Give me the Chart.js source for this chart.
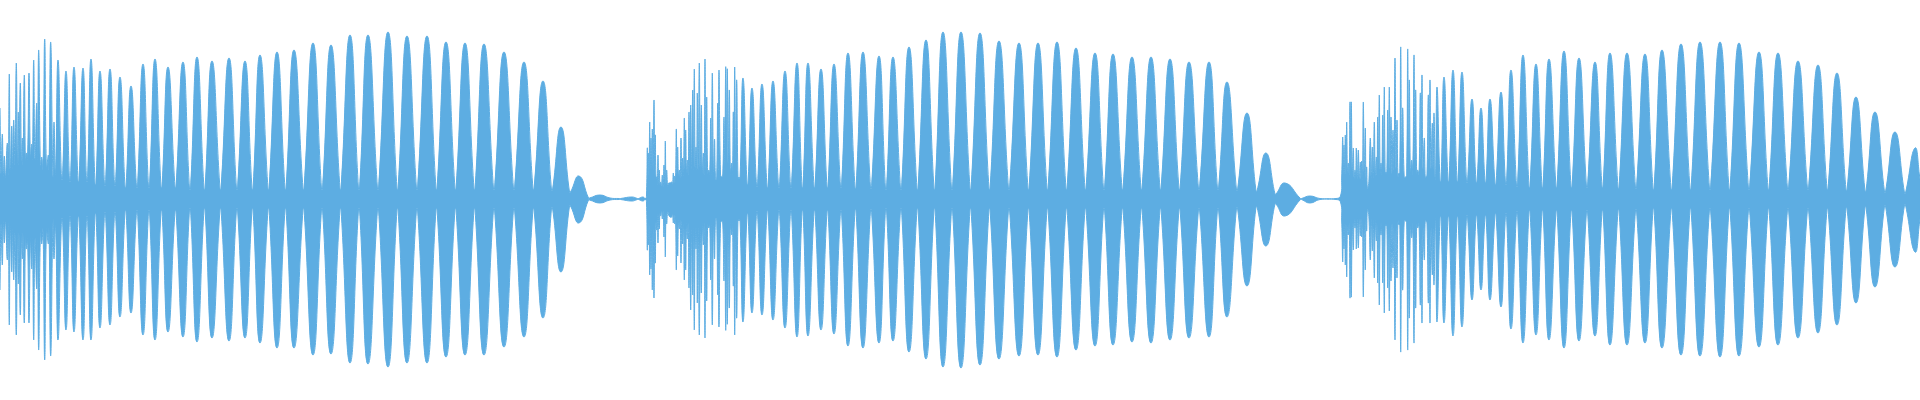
<!DOCTYPE html>
<html lang="en">
<head>
  <meta charset="UTF-8" />
  <title>Waveform</title>
  <script src="https://cdn.jsdelivr.net/npm/chart.js"></script>
  <style>
    html, body { margin: 0; padding: 0; background: #fff; }
    .wave { width: 1920px; height: 400px; }
  </style>
</head>
<body>
  <div class="wave"><canvas id="wave"></canvas></div>
  <script>
    // sample positions along the clip and the peak envelope (top / bottom)
    const sampleX = [
      0, 1, 2.3, 3.3, 4.3, 5.5, 7.3, 8.3, 9.3, 10.3, 11.7, 12.7, 13.7, 15, 16.3, 17.5, 18.3, 19, 20.3, 21.5,
      22.3, 23, 24.3, 25.5, 26.3, 27.5, 29, 30.5, 31.7, 32.5, 33.7, 35, 36.7, 37.5, 38.7, 40.5, 41.7, 43, 44.7, 46.5,
      48.3, 49, 50.7, 53, 54, 55.5, 58, 62, 66, 70, 74, 78.5, 83, 87, 91, 95.5, 100, 105, 110, 115,
      120, 125.5, 131, 137, 143, 149, 155, 161.5, 168, 175.5, 183, 190, 197, 204.5, 212, 220.5, 229, 237, 245, 252.5,
      260, 268.5, 277, 285.5, 294, 303.5, 313, 322, 331, 340.5, 350, 359, 368, 378, 388, 397.5, 407, 417, 427, 436.5,
      446, 455.5, 465, 474.5, 484, 494, 504, 514, 524, 533.5, 543, 552, 561, 570, 579, 589, 600, 610, 620, 632,
      638, 643, 645.5,
      646.5, 647.3, 647.8, 648.3, 649, 649.7, 650.3, 651, 651.7, 652.3, 653.2, 654, 654.7, 655.3, 656, 656.7, 657.3, 658, 658.7, 659.3,
      660, 660.7, 661.5, 662.3, 663.2, 664, 664.7, 665.3, 666, 666.7, 667.7, 668.7, 670, 671.7, 672.5, 673.3, 674, 674.7, 675.5, 676.3,
      677, 677.7, 678.5, 679.3, 680.2, 681, 681.8, 682.7, 683.5, 684.3, 685, 685.7, 686.5, 687.3, 688.2, 689, 689.8, 690.7, 691.7, 692.7,
      693.5, 694.3, 695.2, 696, 696.7, 697.3, 698.3, 699.3, 700.3, 701.3, 702.3, 703.3, 704.2, 705, 705.8, 706.7, 707.7, 708.7, 709.7, 710.7,
      711.5, 712.3, 713.5, 714.5, 715.3, 716, 716.8, 717.7, 718.3, 719, 720.5, 721.7, 722.8, 724, 724.8, 725.7, 726.5, 727.3, 728.3, 729.3,
      730.5, 731.7, 732.5, 733.3, 734, 734.7, 735.7, 736.7, 738, 739, 740,
      743, 747.5, 752, 757, 762, 767.5, 773, 779, 785, 791, 797, 802.5, 808, 814.5, 821, 827.5, 834, 841, 848, 855.5,
      863, 871, 879, 886, 893, 901, 909, 917.5, 926, 934.5, 943, 952, 961, 970.5, 980, 989.5, 999, 1009, 1019, 1028.5,
      1038, 1047.5, 1057, 1066.5, 1076, 1085.5, 1095, 1104, 1113, 1122.5, 1132, 1141.5, 1151, 1160.5, 1170, 1179.5, 1189, 1199, 1209, 1218,
      1227, 1237, 1247, 1256.5, 1266, 1275.5, 1285, 1301, 1310, 1320, 1336, 1340.5,
      1341.7, 1342.7, 1343.3, 1344, 1344.7, 1345.3, 1346, 1346.7, 1347.5, 1348.3, 1349.2, 1350, 1350.7, 1351.3, 1352.3, 1353.3, 1354.2, 1355, 1355.7, 1356.3,
      1357.3, 1358.3, 1359.3, 1360.3, 1361, 1361.7, 1362.5, 1363.3, 1364.3, 1365.3, 1366, 1366.7, 1367.3, 1368, 1369, 1370.3, 1371.3, 1372.3, 1373.3, 1374.3,
      1375.3, 1376.3, 1377, 1377.7, 1378.5, 1379.3, 1380.2, 1381, 1381.8, 1382.7, 1383.5, 1384.3, 1385.2, 1386, 1386.8, 1387.7, 1388.5, 1389.3, 1390.2, 1391,
      1392, 1393, 1394, 1395, 1396, 1397, 1398, 1399, 1399.8, 1400.7, 1401.7, 1402.7, 1404.2, 1405.7, 1406.7, 1407.7, 1408.5, 1409.3, 1410.5, 1411.7,
      1412.8, 1414, 1414.8, 1415.7, 1416.7, 1417.7, 1419, 1420.3, 1421.2, 1422, 1423, 1424.3, 1425.2, 1426, 1427, 1428.3, 1429.2, 1430, 1431, 1432.3,
      1433.2, 1434, 1435.5, 1437, 1440.5, 1444, 1448.5, 1453, 1457.5, 1462, 1467, 1472, 1476.5, 1481, 1485.5, 1490, 1495.5, 1501, 1506, 1511,
      1517, 1523, 1529.5, 1536, 1542.5, 1549, 1556.5, 1564, 1571.5, 1579, 1587, 1595, 1602.5, 1610, 1618.5, 1627, 1636, 1645, 1653.5, 1662,
      1671.5, 1681, 1690.5, 1700, 1710, 1720, 1729.5, 1739, 1749, 1759, 1768.5, 1778, 1788, 1798, 1808, 1818, 1827.5, 1837, 1846.5, 1856,
      1865.5, 1875, 1885, 1895, 1905, 1915, 1920
    ];

    const upperEnv = [
      91, 25, 65, 22, 43, 22, 56, 25, 125, 28, 73, 30, 79, 35, 136, 35, 87, 35, 116, 35,
      61, 35, 124, 35, 46, 40, 126, 40, 55, 40, 139, 40, 96, 40, 149, 30, 42, 30, 160, 30,
      44, 30, 157, 22, 77, 25, 139, 20, 128, 18, 132, 18, 131, 18, 140, 15, 128, 14, 130, 14,
      122, 12, 113, 12, 135, 12, 140, 12, 132, 12, 137, 10, 142, 10, 138, 10, 141, 10, 138, 10,
      144, 10, 147, 10, 149, 10, 156, 10, 154, 10, 164, 10, 164, 10, 167, 10, 163, 10, 163, 10,
      157, 10, 156, 10, 155, 10, 147, 10, 137, 10, 118, 9, 72, 7, 23, 1, 4, 1, 0.5, 2,
      0.5, 2, 0.5,
      4, 51, 20, 46, 25, 77, 30, 61, 30, 70, 30, 99, 35, 64, 22, 22, 15, 44, 15, 29,
      14, 17, 12, 24, 12, 34, 15, 58, 15, 29, 12, 16, 16, 17, 14, 26, 16, 23, 18, 70,
      25, 52, 22, 29, 22, 61, 22, 41, 24, 81, 30, 69, 25, 39, 25, 87, 30, 94, 30, 109,
      30, 130, 30, 52, 30, 106, 30, 136, 30, 94, 25, 46, 25, 140, 30, 102, 25, 29, 25, 81,
      25, 126, 25, 60, 25, 19, 25, 96, 30, 129, 25, 22, 25, 82, 30, 132, 60, 130, 35, 109,
      25, 36, 25, 87, 40, 132, 40, 119, 20, 22, 20,
      121, 15, 111, 13, 115, 12, 118, 12, 128, 12, 136, 12, 136, 12, 130, 12, 135, 12, 146, 11,
      147, 11, 143, 10, 142, 10, 152, 10, 159, 10, 167, 10, 167, 10, 166, 10, 158, 10, 156, 10,
      156, 10, 157, 10, 151, 10, 146, 10, 145, 10, 142, 10, 142, 10, 140, 10, 137, 10, 137, 10,
      117, 9, 86, 8, 46, 5, 16, 0.5, 3, 0.5, 0.5, 3,
      22, 62, 25, 54, 25, 64, 25, 77, 25, 36, 25, 97, 40, 97, 25, 51, 20, 29, 20, 51,
      20, 49, 20, 37, 20, 38, 20, 97, 25, 71, 20, 32, 11, 11, 20, 61, 20, 52, 22, 77,
      22, 42, 25, 82, 30, 104, 25, 36, 25, 84, 30, 112, 25, 27, 25, 89, 30, 112, 30, 82,
      25, 69, 30, 141, 30, 79, 22, 26, 25, 152, 40, 91, 22, 22, 25, 150, 40, 119, 25, 39,
      25, 144, 40, 109, 25, 29, 25, 106, 40, 124, 30, 61, 22, 22, 25, 104, 40, 119, 30, 76,
      30, 86, 20, 112, 18, 122, 18, 129, 18, 127, 17, 100, 17, 91, 17, 100, 15, 107, 15, 129,
      13, 144, 12, 135, 12, 140, 12, 148, 12, 141, 12, 137, 12, 146, 11, 146, 11, 145, 10, 149,
      10, 155, 10, 157, 10, 157, 10, 156, 10, 147, 10, 146, 10, 138, 10, 134, 10, 126, 9, 102,
      8, 87, 7, 67, 6, 51, 20
    ];

    const lowerEnv = [
      -91, -25, -66, -22, -44, -22, -61, -25, -126, -28, -73, -30, -81, -35, -136, -35, -85, -35, -116, -35,
      -60, -35, -124, -35, -50, -40, -124, -40, -70, -40, -141, -40, -90, -40, -151, -30, -45, -30, -161, -30,
      -45, -30, -157, -22, -60, -25, -141, -20, -131, -18, -133, -18, -141, -18, -141, -15, -129, -14, -126, -14,
      -118, -12, -114, -12, -136, -12, -141, -12, -133, -12, -138, -10, -143, -10, -139, -10, -142, -10, -139, -10,
      -144, -10, -149, -10, -149, -10, -156, -10, -155, -10, -164, -10, -165, -10, -168, -10, -164, -10, -164, -10,
      -158, -10, -156, -10, -156, -10, -148, -10, -138, -10, -119, -9, -73, -7, -24, -1, -4, -1, -0.5, -2,
      -0.5, -2, -0.5,
      -4, -51, -20, -46, -25, -76, -30, -70, -30, -91, -30, -99, -35, -64, -22, -31, -15, -44, -15, -30,
      -14, -17, -12, -20, -12, -38, -15, -58, -15, -25, -12, -16, -18, -18, -14, -24, -16, -25, -18, -71,
      -25, -57, -22, -30, -22, -64, -22, -45, -24, -81, -30, -71, -25, -40, -25, -89, -30, -111, -30, -96,
      -30, -131, -30, -50, -30, -104, -30, -136, -30, -94, -25, -46, -25, -139, -30, -102, -25, -29, -25, -81,
      -25, -126, -25, -60, -25, -19, -25, -96, -30, -128, -25, -22, -25, -82, -30, -131, -60, -125, -35, -109,
      -25, -36, -25, -87, -40, -136, -40, -119, -20, -22, -20,
      -123, -15, -114, -13, -116, -12, -121, -12, -129, -12, -138, -12, -137, -12, -131, -12, -135, -12, -147, -11,
      -149, -11, -144, -10, -142, -10, -153, -10, -160, -10, -168, -10, -169, -10, -166, -10, -160, -10, -157, -10,
      -156, -10, -158, -10, -151, -10, -147, -10, -146, -10, -143, -10, -144, -10, -141, -10, -139, -10, -138, -10,
      -118, -9, -87, -8, -47, -5, -17, -0.5, -4, -0.5, -0.5, -3,
      -22, -63, -25, -50, -25, -66, -25, -78, -25, -36, -25, -99, -40, -98, -25, -51, -20, -29, -20, -50,
      -20, -49, -20, -37, -20, -38, -20, -98, -25, -71, -20, -32, -11, -11, -20, -61, -20, -52, -22, -79,
      -22, -42, -25, -84, -30, -106, -25, -36, -25, -84, -30, -114, -25, -27, -25, -89, -30, -112, -30, -82,
      -25, -69, -30, -141, -30, -79, -22, -26, -25, -153, -40, -91, -22, -22, -25, -151, -40, -119, -25, -39,
      -25, -144, -40, -109, -25, -29, -25, -106, -40, -124, -30, -61, -22, -22, -25, -104, -40, -124, -30, -76,
      -30, -86, -20, -123, -18, -124, -18, -137, -18, -128, -17, -101, -17, -91, -17, -101, -15, -108, -15, -130,
      -13, -144, -12, -136, -12, -141, -12, -149, -12, -142, -12, -137, -12, -146, -11, -146, -11, -144, -10, -149,
      -10, -156, -10, -157, -10, -158, -10, -157, -10, -148, -10, -146, -10, -139, -10, -134, -10, -126, -9, -104,
      -8, -88, -7, -68, -6, -53, -20
    ];

    const waveColor = '#5dade2';

    // turn the envelope into {x, y} points; a wide trough between two lobes
    // becomes a tiny flat step so the curve keeps its sharp cusp there
    function toPoints(vals) {
      const pts = [];
      const n = sampleX.length;
      for (let i = 0; i < n; i++) {
        const x = sampleX[i], v = vals[i];
        const wide = i > 0 && i < n - 1 && x - sampleX[i - 1] > 3 && sampleX[i + 1] - x > 3;
        const trough = wide && Math.abs(v) < Math.abs(vals[i - 1]) && Math.abs(v) < Math.abs(vals[i + 1]);
        if (trough) {
          pts.push({ x: x - 0.5, y: v }, { x: x + 0.5, y: v });
        } else {
          pts.push({ x: x, y: v });
        }
      }
      return pts;
    }

    function envelope(vals) {
      return {
        data: toPoints(vals),
        borderColor: waveColor,
        backgroundColor: waveColor,
        borderWidth: 1,
        pointRadius: 0,
        tension: 0.5,
        fill: 'origin'
      };
    }

    new Chart(document.getElementById('wave'), {
      type: 'line',
      data: { datasets: [envelope(upperEnv), envelope(lowerEnv)] },
      options: {
        responsive: true,
        maintainAspectRatio: false,
        animation: false,
        layout: { padding: 0 },
        scales: {
          x: { type: 'linear', min: 0, max: 1920, display: false },
          y: { min: -201, max: 199, display: false }
        },
        plugins: { legend: { display: false }, tooltip: { enabled: false } }
      }
    });
  </script>
</body>
</html>
